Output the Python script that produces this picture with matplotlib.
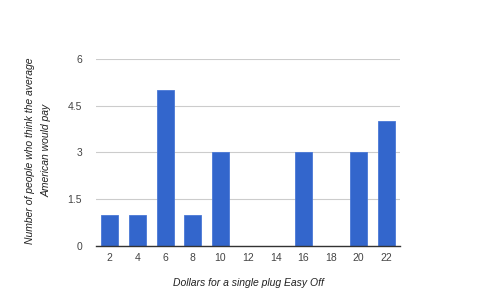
import matplotlib
matplotlib.use('Agg')
import matplotlib.pyplot as plt

# Data -------------------------------------------------------------------
dollars = ['2', '4', '6', '8', '10', '12', '14', '16', '18', '20', '22']
people = [1, 1, 5, 1, 3, 0, 0, 3, 0, 3, 4]
yticks = [0, 1.5, 3, 4.5, 6]
ytick_labels = ['0', '1.5', '3', '4.5', '6']

plt.rcParams['font.family'] = ['Liberation Sans', 'DejaVu Sans']

fig = plt.figure(figsize=(4.95, 3.07), dpi=100)
ax = fig.add_axes([0.194, 0.199, 0.614, 0.609])

pos = list(range(len(dollars)))
ax.bar(pos, people, width=0.62, color='#3366cc', edgecolor='#4a78d6', linewidth=0.6, zorder=3)

ax.set_xlim(-0.5, len(dollars) - 0.5)
ax.set_ylim(0, 6)
ax.set_yticks(yticks)
ax.set_yticklabels(ytick_labels)
ax.set_xticks(pos)
ax.set_xticklabels(dollars)
ax.tick_params(length=0, labelsize=7.5, colors='#444444', pad=5)
ax.tick_params(axis='y', pad=10)

ax.grid(axis='y', color='#cccccc', linewidth=0.8, zorder=0)
for s in ['top', 'right', 'left']:
    ax.spines[s].set_visible(False)
ax.spines['bottom'].set_color('#333333')
ax.spines['bottom'].set_linewidth(1.0)
ax.spines['bottom'].set_zorder(4)

ax.set_xlabel('Dollars for a single plug Easy Off', fontsize=7.5, style='italic', color='#222222', labelpad=11)
fig.text(0.078, 0.51, 'Number of people who think the average\nAmerican would pay', rotation=90,
         ha='center', va='center', multialignment='center', fontsize=7.5, style='italic',
         color='#222222', linespacing=1.8)

plt.savefig('out.png', dpi=100)
